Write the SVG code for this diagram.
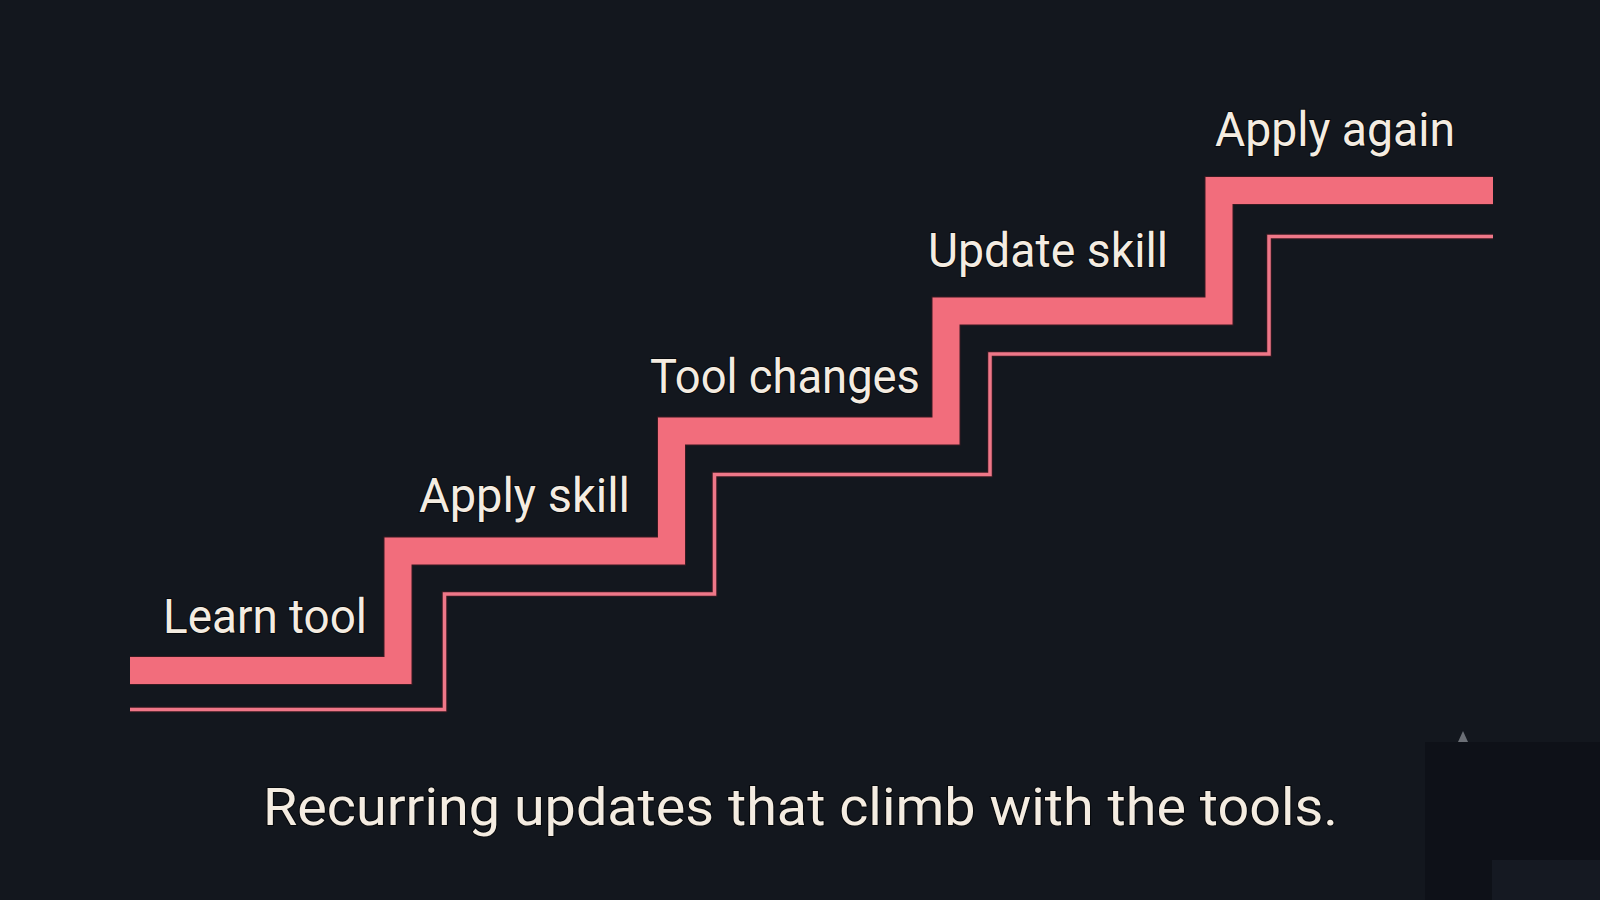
<svg xmlns="http://www.w3.org/2000/svg" width="1600" height="900" viewBox="0 0 1600 900">
  <style>
    .lbl { font-family: Roboto, "Noto Sans", "Liberation Sans", sans-serif; font-size: 48px; fill: #f4ece1; stroke: #07090c; stroke-width: 2px; paint-order: stroke; }
    .cap { font-family: Roboto, "Noto Sans", "Liberation Sans", sans-serif; font-size: 51px; fill: #f4ece1; stroke: #07090c; stroke-width: 2px; paint-order: stroke; }
    .thick-edge { fill: none; stroke: #3a1a22; stroke-width: 29; stroke-linejoin: miter; stroke-linecap: butt; }
    .thick { fill: none; stroke: #f26d7c; stroke-width: 27; stroke-linejoin: miter; stroke-linecap: butt; }
    .thin-edge { fill: none; stroke: #3a1a22; stroke-width: 5.5; stroke-linejoin: miter; }
    .thin { fill: none; stroke: #ef7788; stroke-width: 3.5; stroke-linejoin: miter; }
  </style>
  <rect width="1600" height="900" fill="#13171e"/>

  <g id="connectors">
    <path class="thick-edge" d="M130 670.5 H398 V551 H671.5 V431 H946 V311 H1219 V190.5 H1493"/>
    <path class="thick" d="M130 670.5 H398 V551 H671.5 V431 H946 V311 H1219 V190.5 H1493"/>
    <path class="thin-edge" d="M130 709.5 H444.5 V594 H714.5 V474.5 H990 V354 H1269 V236.5 H1493"/>
    <path class="thin" d="M130 709.5 H444.5 V594 H714.5 V474.5 H990 V354 H1269 V236.5 H1493"/>
  </g>

  <g id="node-learn-tool"><text class="lbl" x="163" y="633" textLength="204" lengthAdjust="spacingAndGlyphs">Learn tool</text></g>
  <g id="node-apply-skill"><text class="lbl" x="419" y="512" textLength="211" lengthAdjust="spacingAndGlyphs">Apply skill</text></g>
  <g id="node-tool-changes"><text class="lbl" x="650" y="393" textLength="270" lengthAdjust="spacingAndGlyphs">Tool changes</text></g>
  <g id="node-update-skill"><text class="lbl" x="928" y="267" textLength="240" lengthAdjust="spacingAndGlyphs">Update skill</text></g>
  <g id="node-apply-again"><text class="lbl" x="1215" y="146" textLength="240" lengthAdjust="spacingAndGlyphs">Apply again</text></g>

  <g id="caption"><text class="cap" x="263" y="825" textLength="1075" lengthAdjust="spacingAndGlyphs">Recurring updates that climb with the tools.</text></g>

  <g id="corner">
    <rect x="1425" y="742" width="175" height="158" fill="#0e1118"/>
    <rect x="1492" y="860" width="108" height="40" fill="#151922"/>
    <polygon points="1458,742 1468,742 1463,731" fill="#6b6f76"/>
  </g>
</svg>
